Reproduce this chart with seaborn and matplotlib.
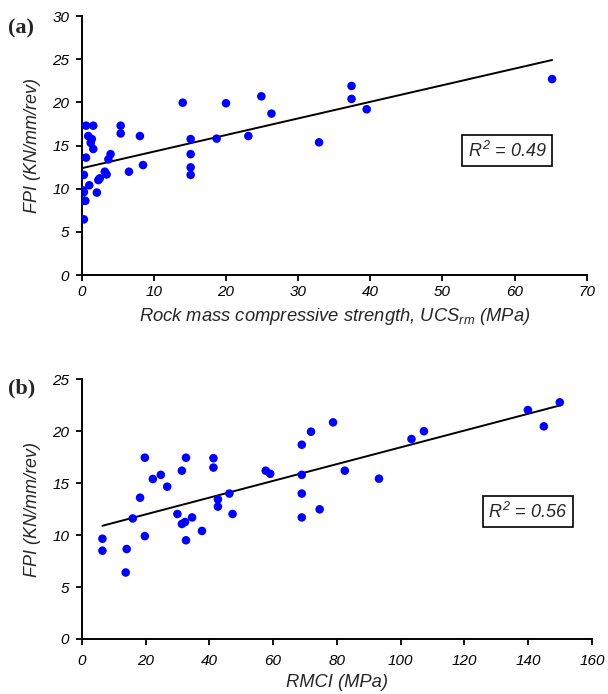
import numpy as np
import pandas as pd
import matplotlib
matplotlib.use("Agg")
import matplotlib.pyplot as plt
import seaborn as sns

# Panel (a): UCSrm vs FPI
ucs_rm = [0.6, 1.6, 0.9, 1.4, 1.25, 1.6, 0.6, 0.3, 0.2, 0.3, 0.3, 0.5, 0.3, 1.05,
          2.1, 2.3, 2.5, 3.2, 3.45, 3.7, 4.0, 5.4, 5.4, 6.55, 8.07, 8.5, 14.0,
          15.1, 15.1, 15.1, 15.1, 18.7, 20.0, 23.1, 24.9, 26.3, 32.9, 37.4, 37.4,
          39.5, 65.2]
fpi_a = [17.3, 17.3, 16.1, 15.75, 15.3, 14.6, 13.6, 11.6, 9.8, 9.6, 8.6, 8.6, 6.45, 10.4,
         9.55, 11.0, 11.2, 11.97, 11.65, 13.4, 14.0, 17.3, 16.4, 11.97, 16.1, 12.74, 19.96,
         15.75, 14.0, 12.47, 11.6, 15.8, 19.9, 16.1, 20.7, 18.7, 15.37, 21.9, 20.4,
         19.2, 22.7]

# Panel (b): RMCI vs FPI
rmci = [6.5, 6.5, 13.8, 14.1, 16.0, 18.3, 19.8, 19.8, 22.3, 24.8, 26.8, 30.0, 31.4, 31.4,
        32.4, 32.7, 32.7, 34.6, 37.7, 41.3, 41.3, 42.7, 42.7, 46.3, 47.3, 57.7, 59.1,
        69.0, 69.0, 69.0, 69.0, 71.9, 74.6, 78.8, 82.5, 93.2, 103.4, 107.3, 139.9,
        144.9, 149.9]
fpi_b = [9.65, 8.5, 6.4, 8.66, 11.6, 13.6, 17.45, 9.9, 15.4, 15.8, 14.66, 12.03, 16.2, 11.07,
         11.26, 17.45, 9.5, 11.7, 10.4, 17.4, 16.5, 13.44, 12.74, 14.0, 12.03, 16.2, 15.9,
         18.7, 15.8, 14.0, 11.7, 19.95, 12.48, 20.85, 16.2, 15.43, 19.25, 20.0, 22.04,
         20.47, 22.78]

xticks_a = [0, 10, 20, 30, 40, 50, 60, 70]
yticks_a = [0, 5, 10, 15, 20, 25, 30]
xticks_b = [0, 20, 40, 60, 80, 100, 120, 140, 160]
yticks_b = [0, 5, 10, 15, 20, 25]

sns.set_style("ticks")
plt.rcParams['font.family'] = ['Liberation Sans', 'DejaVu Sans']
plt.rcParams['mathtext.fontset'] = 'custom'
plt.rcParams['mathtext.it'] = 'Liberation Sans:italic'
plt.rcParams['mathtext.rm'] = 'Liberation Sans:italic'
plt.rcParams['mathtext.default'] = 'it'

fig = plt.figure(figsize=(6.08, 6.94), dpi=100)
ax_a = fig.add_axes([0.1344, 0.6037, 0.8306, 0.3732])
ax_b = fig.add_axes([0.1344, 0.0793, 0.8393, 0.3742])

df_a = pd.DataFrame({"x": ucs_rm, "y": fpi_a})
df_b = pd.DataFrame({"x": rmci, "y": fpi_b})

for ax, df, xt, yt, xlabel, r2, r2pos, xpad in [
    (ax_a, df_a, xticks_a, yticks_a,
     r"Rock mass compressive strength, UCS$_{rm}$ (MPa)", "0.49", (59.0, 14.4), 3),
    (ax_b, df_b, xticks_b, yticks_b, "RMCI (MPa)", "0.56", (139.9, 12.25), 6.5),
]:
    sns.regplot(data=df, x="x", y="y", ax=ax, ci=None, truncate=True,
                scatter_kws=dict(s=38, color="#0000FF", edgecolor="none", alpha=1, zorder=3),
                line_kws=dict(color="black", linewidth=1.4, zorder=2))
    ax.set_xlim(xt[0], xt[-1])
    ax.set_ylim(yt[0], yt[-1])
    ax.set_xticks(xt)
    ax.set_yticks(yt)
    for lab in ax.get_xticklabels() + ax.get_yticklabels():
        lab.set_fontstyle("italic")
        lab.set_fontsize(11)
    ax.tick_params(direction="out", length=4, width=1.3, colors="black")
    ax.tick_params(axis="x", pad=xpad)
    ax.tick_params(axis="y", pad=5)
    for s in ["top", "right"]:
        ax.spines[s].set_visible(False)
    for s in ["left", "bottom"]:
        ax.spines[s].set_linewidth(1.4)
        ax.spines[s].set_color("black")
    ax.set_xlabel(xlabel, fontsize=13.2, fontstyle="italic", labelpad=5)
    ax.set_ylabel("FPI (KN/mm/rev)", fontsize=13, fontstyle="italic", labelpad=8)
    ax.text(r2pos[0], r2pos[1], r"$R^2$ = " + r2, fontsize=13, fontstyle="italic",
            ha="center", va="center",
            bbox=dict(boxstyle="square,pad=0.3", facecolor="white", edgecolor="black", linewidth=1.2))

fig.text(0.013, 0.9524, "(a)", fontsize=16, fontweight="bold", family="Liberation Serif")
fig.text(0.013, 0.4337, "(b)", fontsize=16, fontweight="bold", family="Liberation Serif")

fig.savefig("out.png", dpi=100)
